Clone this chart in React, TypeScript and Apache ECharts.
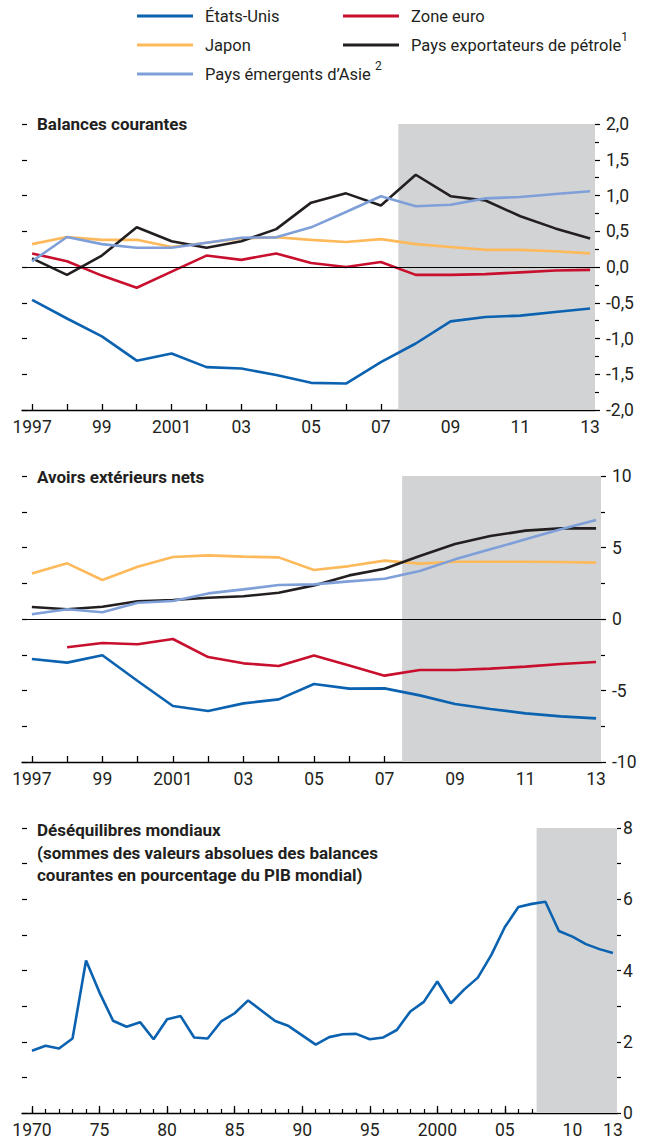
import React, { useEffect, useRef } from "react";
import * as echarts from "echarts";

// ---------- Data ----------
const years = [1997, 1998, 1999, 2000, 2001, 2002, 2003, 2004, 2005, 2006, 2007, 2008, 2009, 2010, 2011, 2012, 2013];

// Balances courantes (% du PIB mondial)
const bcEtatsUnis = [-0.46, -0.72, -0.97, -1.31, -1.21, -1.40, -1.42, -1.51, -1.62, -1.63, -1.33, -1.07, -0.76, -0.70, -0.68, -0.63, -0.58];
const bcZoneEuro = [0.19, 0.08, -0.12, -0.29, -0.065, 0.16, 0.10, 0.19, 0.055, 0.0, 0.07, -0.11, -0.11, -0.10, -0.075, -0.05, -0.04];
const bcJapon = [0.32, 0.42, 0.38, 0.38, 0.28, 0.34, 0.40, 0.415, 0.38, 0.35, 0.39, 0.32, 0.28, 0.24, 0.24, 0.22, 0.19];
const bcPetrole = [0.12, -0.11, 0.16, 0.555, 0.36, 0.27, 0.36, 0.53, 0.90, 1.03, 0.86, 1.29, 0.99, 0.93, 0.71, 0.54, 0.40];
const bcAsie = [0.08, 0.42, 0.32, 0.27, 0.27, 0.34, 0.41, 0.415, 0.555, 0.77, 0.99, 0.85, 0.87, 0.96, 0.98, 1.02, 1.06];

// Avoirs extérieurs nets
const aeEtatsUnis = [-2.80, -3.05, -2.54, -4.34, -6.08, -6.43, -5.90, -5.62, -4.55, -4.87, -4.85, -5.34, -5.94, -6.29, -6.60, -6.81, -6.95];
const aeZoneEuro = [null, -1.98, -1.68, -1.77, -1.40, -2.66, -3.10, -3.29, -2.56, -3.26, -3.96, -3.57, -3.57, -3.47, -3.33, -3.15, -3.01];
const aeJapon = [3.19, 3.89, 2.73, 3.66, 4.34, 4.45, 4.36, 4.31, 3.43, 3.70, 4.08, 3.87, 4.0, 4.0, 4.0, 3.99, 3.94];
const aePetrole = [0.84, 0.68, 0.86, 1.24, 1.33, 1.49, 1.59, 1.84, 2.35, 3.05, 3.52, 4.41, 5.24, 5.80, 6.18, 6.34, 6.34];
const aeAsie = [0.33, 0.68, 0.47, 1.14, 1.26, 1.79, 2.07, 2.38, 2.42, 2.63, 2.82, 3.36, 4.17, 4.87, 5.57, 6.27, 6.92];

// Déséquilibres mondiaux 1970–2013
const years3 = Array.from({ length: 44 }, (_, i) => 1970 + i);
const desequilibres = [
  1.75, 1.89, 1.81, 2.09, 4.28, 3.38, 2.59, 2.42, 2.55, 2.07,
  2.63, 2.72, 2.12, 2.09, 2.57, 2.80, 3.16, 2.87, 2.58, 2.44,
  2.18, 1.92, 2.13, 2.21, 2.22, 2.07, 2.12, 2.33, 2.85, 3.12,
  3.69, 3.08, 3.47, 3.80, 4.44, 5.22, 5.78, 5.87, 5.93, 5.11,
  4.95, 4.74, 4.60, 4.49,
];

const labelYears12 = [1997, 1999, 2001, 2003, 2005, 2007, 2009, 2011, 2013];
const labelYears3 = [1970, 1975, 1980, 1985, 1990, 1995, 2000, 2005, 2010, 2013];
const projStart12 = 2007.5;
const projStart3 = 2007.35;

const NAMES = {
  us: "États-Unis",
  eu: "Zone euro",
  jp: "Japon",
  oil: "Pays exportateurs de pétrole",
  asia: "Pays émergents d’Asie",
};
const COLORS = {
  us: "#0a62b0",
  eu: "#c8102e",
  jp: "#fdb95a",
  oil: "#231f20",
  asia: "#7f9fd9",
};

const FONT = "Roboto";
const TXT = "#231f20";
const FS = 16.5;
const AFS = 17.5;

const pairs = (xs: number[], ys: (number | null)[]) => xs.map((x, i) => [x, ys[i]]);
const comma = (v: number) => (Math.round(v * 10) / 10).toFixed(1).replace(".", ",");
const yr12 = (v: number) => (v === 1997 || v === 2001 ? String(v) : String(v).slice(2));
const yr3 = (v: number) => (v === 1970 || v === 2000 ? String(v) : String(v).slice(2));

function xAxisBase(gridIndex: number, min: number, max: number) {
  return {
    type: "value",
    gridIndex,
    min,
    max,
    position: "bottom",
    splitLine: { show: false },
    axisLine: { show: true, onZero: false, lineStyle: { color: "#000", width: 1.3 } },
  };
}

function rightY(gridIndex: number, min: number, max: number, interval: number, fmt: (v: number) => string, margin: number, tickLen: number) {
  return {
    type: "value",
    gridIndex,
    position: "right",
    min,
    max,
    interval,
    splitLine: { show: false },
    axisLine: { show: false },
    axisTick: { show: true, inside: false, length: tickLen, lineStyle: { color: "#000", width: 1.2 } },
    minorTick: { show: true, splitNumber: 2, length: 4, lineStyle: { color: "#000", width: 1.2 } },
    axisLabel: { margin, formatter: fmt, fontFamily: FONT, fontSize: AFS, color: TXT },
  };
}

function leftY(gridIndex: number, min: number, max: number, interval: number) {
  return {
    type: "value",
    gridIndex,
    position: "left",
    min,
    max,
    interval,
    splitLine: { show: false },
    axisLine: { show: false },
    axisTick: { show: true, inside: true, length: 5, lineStyle: { color: "#000", width: 1.2 } },
    axisLabel: { show: false },
  };
}

function lineSeries(name: string, color: string, xi: number, yi: number, data: any[], extra: any = {}) {
  return {
    type: "line",
    name,
    xAxisIndex: xi,
    yAxisIndex: yi,
    data,
    symbol: "none",
    showSymbol: false,
    connectNulls: false,
    lineStyle: { color, width: 2.6 },
    itemStyle: { color },
    emphasis: { disabled: true },
    z: 3,
    ...extra,
  };
}

const zeroLine = {
  silent: true,
  symbol: ["none", "none"],
  label: { show: false },
  lineStyle: { color: "#000", width: 1, type: "solid" },
  emphasis: { disabled: true },
  data: [{ yAxis: 0 }],
};

const shade = (from: number, to: number) => ({
  silent: true,
  itemStyle: { color: "#d1d3d4" },
  emphasis: { disabled: true },
  data: [[{ xAxis: from }, { xAxis: to }]],
});

const legendFormatter = (name: string) => {
  if (name === NAMES.oil) return `{g|}${name}{sup|1}`;
  if (name === NAMES.asia) return `{g|}${name} {sup|2}`;
  return `{g|}${name}`;
};

const legendText = {
  fontFamily: FONT,
  fontSize: FS,
  color: TXT,
  lineHeight: 29,
  rich: {
    g: { width: 7 },
    sup: { fontFamily: FONT, fontSize: 12, color: TXT, verticalAlign: "top", lineHeight: 23 },
  },
};

export default function App() {
  const ref = useRef<HTMLDivElement>(null);

  useEffect(() => {
    if (!ref.current) return;
    const chart = echarts.init(ref.current, undefined, { renderer: "svg" });

    const x1min = 1996.71, x1max = 2013.14;
    const x2min = 1996.72, x2max = 2013.14;
    const x3min = 1969.26, x3max = 2013.3;

    const legendBase = {
      orient: "vertical",
      top: 1.5,
      padding: 0,
      itemGap: 0,
      itemWidth: 56,
      itemHeight: 3,
      icon: "rect",
      selectedMode: false,
      formatter: legendFormatter,
      textStyle: legendText,
    };

    const option: any = {
      animation: false,
      backgroundColor: "#fff",
      legend: [
        { ...legendBase, data: [NAMES.us, NAMES.jp, NAMES.asia], left: 137 },
        { ...legendBase, data: [NAMES.eu, NAMES.oil], left: 343 },
      ],
      grid: [
        { left: 22, right: 50, top: 124, height: 286, containLabel: false },
        { left: 22, right: 44, top: 476, height: 286, containLabel: false },
        { left: 22, right: 28, top: 828, height: 285, containLabel: false },
      ],
      xAxis: [
        {
          ...xAxisBase(0, x1min, x1max),
          axisTick: { show: true, inside: true, length: 6, customValues: years, lineStyle: { color: "#000", width: 1.3 } },
          axisLabel: { customValues: labelYears12, formatter: yr12, margin: 8, fontFamily: FONT, fontSize: AFS, color: TXT },
        },
        {
          ...xAxisBase(1, x2min, x2max),
          axisTick: { show: true, inside: true, length: 6, customValues: years, lineStyle: { color: "#000", width: 1.3 } },
          axisLabel: { customValues: labelYears12, formatter: yr12, margin: 8, fontFamily: FONT, fontSize: AFS, color: TXT },
        },
        {
          ...xAxisBase(2, x3min, x3max),
          axisTick: { show: true, inside: true, length: 4, customValues: years3, lineStyle: { color: "#000", width: 1.2 } },
          axisLabel: { show: false },
        },
        {
          ...xAxisBase(2, x3min, x3max),
          axisLine: { show: false },
          axisTick: { show: true, inside: true, length: 7, customValues: labelYears3, lineStyle: { color: "#000", width: 1.3 } },
          axisLabel: { customValues: labelYears3, formatter: yr3, margin: 8, fontFamily: FONT, fontSize: AFS, color: TXT },
        },
      ],
      yAxis: [
        rightY(0, -2, 2, 0.5, comma, 11, 5),
        leftY(0, -2, 2, 0.5),
        rightY(1, -10, 10, 5, (v: number) => String(v), 11, 5),
        leftY(1, -10, 10, 2.5),
        rightY(2, 0, 8, 2, (v: number) => String(v), 6, 4),
        leftY(2, 0, 8, 1),
      ],
      graphic: [
        {
          type: "text",
          x: 37,
          y: 124,
          style: { text: "Balances courantes", font: `bold 17px ${FONT}`, fill: TXT, verticalAlign: "middle" },
        },
        {
          type: "text",
          x: 37,
          y: 477,
          style: { text: "Avoirs extérieurs nets", font: `bold 17px ${FONT}`, fill: TXT, verticalAlign: "middle" },
        },
        {
          type: "text",
          x: 37,
          y: 818.75,
          style: {
            text: "Déséquilibres mondiaux\n(sommes des valeurs absolues des balances\ncourantes en pourcentage du PIB mondial)",
            font: `bold 17px ${FONT}`,
            lineHeight: 22.5,
            fill: TXT,
            verticalAlign: "top",
          },
        },
      ],
      series: [
        // Panel 1
        lineSeries(NAMES.us, COLORS.us, 0, 0, pairs(years, bcEtatsUnis), {
          markArea: shade(projStart12, x1max),
          markLine: zeroLine,
        }),
        lineSeries(NAMES.eu, COLORS.eu, 0, 0, pairs(years, bcZoneEuro)),
        lineSeries(NAMES.jp, COLORS.jp, 0, 0, pairs(years, bcJapon)),
        lineSeries(NAMES.oil, COLORS.oil, 0, 0, pairs(years, bcPetrole)),
        lineSeries(NAMES.asia, COLORS.asia, 0, 0, pairs(years, bcAsie)),
        // Panel 2
        lineSeries(NAMES.us, COLORS.us, 1, 2, pairs(years, aeEtatsUnis), {
          markArea: shade(projStart12, x2max),
          markLine: zeroLine,
        }),
        lineSeries(NAMES.eu, COLORS.eu, 1, 2, pairs(years, aeZoneEuro)),
        lineSeries(NAMES.jp, COLORS.jp, 1, 2, pairs(years, aeJapon)),
        lineSeries(NAMES.oil, COLORS.oil, 1, 2, pairs(years, aePetrole)),
        lineSeries(NAMES.asia, COLORS.asia, 1, 2, pairs(years, aeAsie)),
        // Panel 3
        lineSeries("Déséquilibres mondiaux", COLORS.us, 3, 4, pairs(years3, desequilibres), {
          markArea: shade(projStart3, x3max),
        }),
      ],
    };

    chart.setOption(option);
    return () => chart.dispose();
  }, []);

  return (
    <div
      ref={ref}
      style={{ position: "absolute", left: 0, top: 0, width: 645, height: 1142, background: "#fff" }}
    />
  );
}
